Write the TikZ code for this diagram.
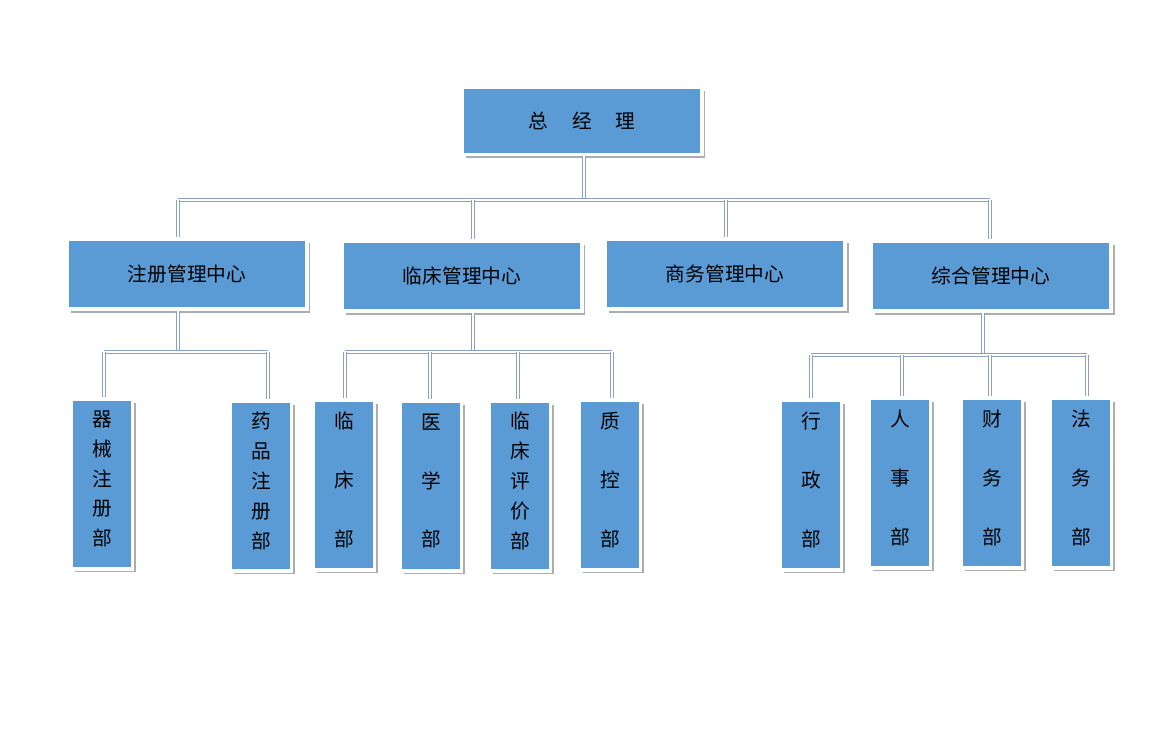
\documentclass[tikz,border=0pt]{standalone}
\usepackage{fontspec}
\newfontfamily\cjk{Noto Sans CJK SC}
\usetikzlibrary{shadows}
\definecolor{boxblue}{RGB}{91,155,213}
\definecolor{linegray}{RGB}{140,160,195}
\begin{document}
\begin{tikzpicture}[x=0.02cm,y=-0.02cm,font=\cjk\fontsize{11.2}{13}\selectfont,
	box/.style={rectangle,fill=boxblue,draw=white,line width=2pt,inner sep=0pt,drop shadow={shadow xshift=2pt,shadow yshift=-2pt,fill=black!32,opacity=1}},
	head/.style={box,minimum width=4.8cm,minimum height=1.4cm},
	dept/.style={box,minimum width=1.22cm,minimum height=3.4cm,align=center,text depth=6.5pt},
	five/.style={dept,font=\cjk\fontsize{11.2}{17}\selectfont},
	three/.style={dept,font=\cjk\fontsize{11.2}{33.5}\selectfont},
	link/.style={draw=linegray,line width=0.45pt,double=white,double distance=1.3pt}]
	\useasboundingbox (0,0) rectangle (1163,729);
	\node[head,minimum height=1.34cm] (ceo) at (582,121) {总\hspace{1.2em}经\hspace{1.2em}理};
	\node[head] (reg) at (187,274) {注册管理中心};
	\node[head] (clin) at (462,276) {临床管理中心};
	\node[head] (biz) at (725,274) {商务管理中心};
	\node[head] (gen) at (991,276) {综合管理中心};
	\node[five] (qx) at (102,484) {器\\械\\注\\册\\部};
	\node[five] (yp) at (261,486) {药\\品\\注\\册\\部};
	\node[three] (lc) at (344,485) {临\\床\\部};
	\node[three] (yx) at (431,486) {医\\学\\部};
	\node[five] (pj) at (520,486) {临\\床\\评\\价\\部};
	\node[three] (zk) at (610,485) {质\\控\\部};
	\node[three] (xz) at (811,485) {行\\政\\部};
	\node[three] (rs) at (900,483) {人\\事\\部};
	\node[three] (cw) at (992,483) {财\\务\\部};
	\node[three] (fw) at (1081,483) {法\\务\\部};
	\draw[link] (ceo.south -| 584,0) -- (584,200);
	\draw[link] (178,200) -- (990,200);
	\draw[link] (reg.south -| 178,0) -- (178,352);
	\draw[link] (104,352) -- (268,352);
	\draw[link] (clin.south -| 473,0) -- (473,352);
	\draw[link] (345,352) -- (612,352);
	\draw[link] (gen.south -| 983,0) -- (983,355);
	\draw[link] (811,355) -- (1087,355);
	\foreach \n/\x/\y in {reg/178/200,clin/473/200,biz/726/200,gen/990/200,qx/104/352,yp/268/352,lc/345/352,yx/430/352,pj/518/352,zk/612/352,xz/811/355,rs/902/355,cw/990/355,fw/1087/355}
		\draw[link] (\x,\y) -- (\n.north -| \x,0);
\end{tikzpicture}
\end{document}
